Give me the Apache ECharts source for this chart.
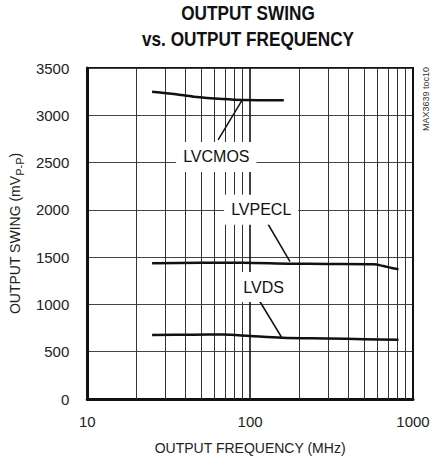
<!DOCTYPE html>
<html>
<head>
<meta charset="utf-8">
<script src="https://cdn.jsdelivr.net/npm/echarts@6/dist/echarts.min.js"></script>
<style>
  html, body { margin: 0; padding: 0; background: #fff; }
  #chart { width: 437px; height: 466px; }
</style>
</head>
<body>
<div id="chart"></div>
<script>
// curves: frequency (MHz) and swing (mVp-p)
var freqCmos = [25, 35, 45, 68, 90, 161];
var swingCmos = [3249, 3222, 3197, 3172, 3162, 3160];
var freqPecl = [25, 50, 90, 172, 300, 573, 659, 740, 815];
var swingPecl = [1435, 1440, 1441, 1431, 1428, 1424, 1406, 1385, 1371];
var freqLvds = [25, 45, 68, 100, 157, 300, 500, 815];
var swingLvds = [677, 680, 682, 666, 648, 640, 633, 627];

// minor log gridlines
var minorFreqs = [20, 30, 40, 50, 60, 70, 80, 90, 200, 300, 400, 500, 600, 700, 800, 900];

// callouts: name, label position, arrow tail, arrow tip (data units)
var calloutNames = ['LVCMOS', 'LVPECL', 'LVDS'];
var calloutAt = [[62, 2560], [117, 2000], [121, 1184]];
var arrowTail = [[63.6, 2739], [127.6, 1861], [114, 1039]];
var arrowTip = [[88.9, 3154], [175.7, 1452], [157, 645]];

var FONT = '"Liberation Sans", Arial, sans-serif';

function pairs(xs, ys) {
  return xs.map(function (x, i) { return [x, ys[i]]; });
}

function curve(name, xs, ys) {
  return {
    name: name,
    type: 'line',
    data: pairs(xs, ys),
    smooth: 0.3,
    symbol: 'none',
    lineStyle: { color: '#111', width: 2.5 },
    z: 5
  };
}

var chart = echarts.init(document.getElementById('chart'), null, { renderer: 'svg' });

var series = [
  curve('LVCMOS', freqCmos, swingCmos),
  curve('LVPECL', freqPecl, swingPecl),
  curve('LVDS', freqLvds, swingLvds),
  {
    // minor vertical grid
    type: 'line',
    data: [],
    silent: true,
    markLine: {
      silent: true,
      symbol: 'none',
      animation: false,
      label: { show: false },
      lineStyle: { color: '#333', width: 1, type: 'solid' },
      data: minorFreqs.map(function (f) { return { xAxis: f }; })
    },
    z: 1
  },
  {
    // callout labels and arrows
    type: 'line',
    data: [],
    silent: true,
    markLine: {
      silent: true,
      symbol: ['none', 'arrow'],
      symbolSize: [0, 11],
      animation: false,
      label: { show: false },
      lineStyle: { color: '#111', width: 1.5, type: 'solid' },
      data: arrowTail.map(function (t, i) {
        return [{ coord: t }, { coord: arrowTip[i] }];
      })
    },
    markPoint: {
      silent: true,
      symbol: 'rect',
      symbolSize: 0,
      animation: false,
      label: {
        show: true,
        position: 'inside',
        color: '#111',
        fontFamily: FONT,
        fontSize: 16,
        backgroundColor: '#fff',
        padding: [7, 7],
        formatter: function (p) { return p.name; }
      },
      data: calloutNames.map(function (n, i) {
        return { name: n, coord: calloutAt[i] };
      })
    },
    z: 10
  }
];

chart.setOption({
  animation: false,
  grid: {
    left: 82, right: 24, top: 68, bottom: 67,
    show: true, borderColor: '#111', borderWidth: 2
  },
  xAxis: {
    type: 'log',
    logBase: 10,
    min: 10,
    max: 1000,
    name: 'OUTPUT FREQUENCY (MHz)',
    nameLocation: 'middle',
    nameGap: 42,
    nameTextStyle: { fontFamily: FONT, fontSize: 14, color: '#222' },
    axisLine: { show: true, lineStyle: { color: '#111', width: 3 } },
    axisTick: { show: false },
    axisLabel: {
      fontFamily: FONT, fontSize: 15, color: '#222', margin: 15,
      formatter: function (v) { return String(v); }
    },
    splitLine: { show: true, lineStyle: { color: '#111', width: 1.6 } },
    minorSplitLine: { show: false }
  },
  yAxis: {
    type: 'value',
    min: 0,
    max: 3500,
    interval: 500,
    name: '{n|OUTPUT SWING (mV}{s|P-P}{n|)}',
    nameLocation: 'middle',
    nameGap: 58,
    nameRotate: 90,
    nameTextStyle: {
      color: '#222',
      rich: {
        n: { fontFamily: FONT, fontSize: 14, lineHeight: 20, verticalAlign: 'middle', color: '#222' },
        s: { fontFamily: FONT, fontSize: 11, lineHeight: 11, verticalAlign: 'bottom', color: '#222' }
      }
    },
    axisLine: { show: true, lineStyle: { color: '#111', width: 3 } },
    axisTick: { show: false },
    axisLabel: {
      fontFamily: FONT, fontSize: 15, color: '#222', margin: 18,
      formatter: function (v) { return String(v); }
    },
    splitLine: { show: true, lineStyle: { color: '#444', width: 1 } }
  },
  graphic: [
    {
      // condensed bold title
      type: 'text',
      x: 248,
      y: 0,
      scaleX: 0.86,
      style: {
        text: 'OUTPUT SWING\nvs. OUTPUT FREQUENCY',
        font: 'bold 20px ' + FONT,
        lineHeight: 26,
        align: 'center',
        verticalAlign: 'top',
        fill: '#111'
      }
    },
    {
      type: 'text',
      left: 421,
      top: 67,
      rotation: Math.PI / 2,
      style: { text: 'MAX3639 toc10', font: '9px ' + FONT, fill: '#333' }
    }
  ],
  series: series
});
</script>
</body>
</html>
